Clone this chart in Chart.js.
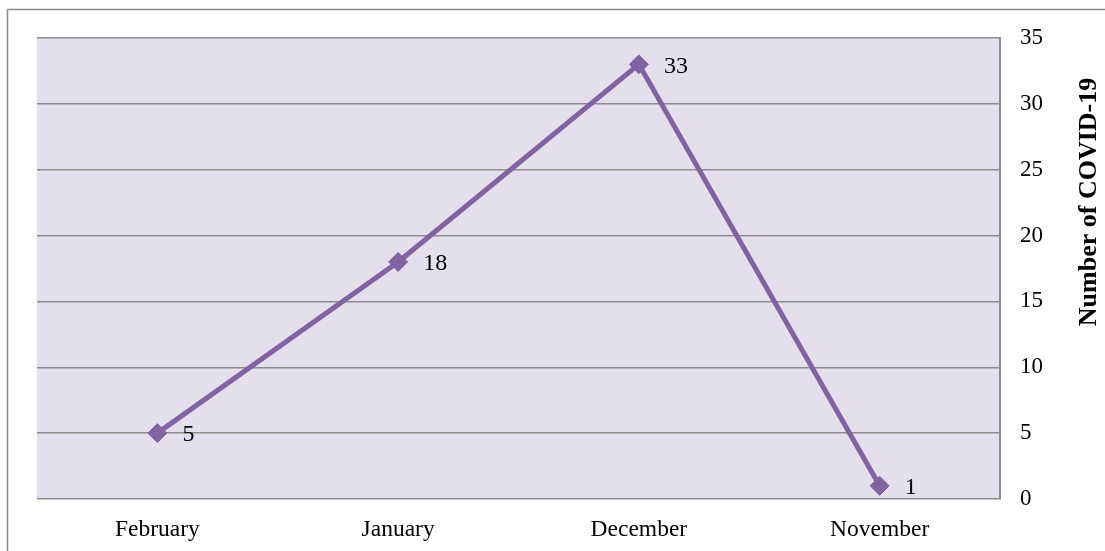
<!DOCTYPE html>
<html>
<head>
<meta charset="utf-8">
<script src="https://cdn.jsdelivr.net/npm/chart.js@4/dist/chart.umd.min.js"></script>
<style>
  html, body { margin: 0; padding: 0; background: #fff; }
  #wrap { width: 1105px; height: 551px; position: relative; }
</style>
</head>
<body>
<div id="wrap"><canvas id="covidChart"></canvas></div>
<script>
const months = ['February', 'January', 'December', 'November'];
const cases = [5, 18, 33, 1];
const yTicks = [0, 5, 10, 15, 20, 25, 30, 35];
const axisTitle = 'Number of COVID-19';

const serif = "'Liberation Serif', 'Times New Roman', serif";
const purple = '#8064a2';
const gridGray = '#8c8c8c';

// lavender plot area + outer frame
const backdrop = {
    id: 'backdrop',
    beforeDraw(chart) {
        const { ctx, chartArea: a } = chart;
        ctx.save();
        ctx.fillStyle = '#e4dfec';
        ctx.fillRect(a.left, a.top, a.right - a.left, a.bottom - a.top);
        ctx.strokeStyle = '#8a8a8a';
        ctx.lineWidth = 1.5;
        ctx.strokeRect(7.5, 9.5, chart.width + 20, chart.height + 20);
        ctx.restore();
    }
};

// value labels beside each marker and the rotated axis title
const labelsAndTitle = {
    id: 'labelsAndTitle',
    afterDatasetsDraw(chart) {
        const { ctx } = chart;
        const meta = chart.getDatasetMeta(0);
        ctx.save();
        ctx.font = '24px ' + serif;
        ctx.fillStyle = '#000';
        ctx.textAlign = 'left';
        ctx.textBaseline = 'middle';
        meta.data.forEach((pt, i) => {
            ctx.fillText(String(cases[i]), pt.x + 25, pt.y + 2);
        });
        ctx.translate(1089, 202);
        ctx.rotate(-Math.PI / 2);
        ctx.font = 'bold 26px ' + serif;
        ctx.textAlign = 'center';
        ctx.fillText(axisTitle, 0, 0);
        ctx.restore();
    }
};

new Chart(document.getElementById('covidChart'), {
    type: 'line',
    data: {
        labels: months,
        datasets: [{
            data: cases,
            borderColor: purple,
            backgroundColor: purple,
            borderWidth: 5,
            pointStyle: 'rectRot',
            pointRadius: 9.5,
            pointBorderWidth: 1,
            pointBackgroundColor: purple,
            pointBorderColor: purple,
            tension: 0,
            clip: false
        }]
    },
    options: {
        responsive: true,
        maintainAspectRatio: false,
        animation: false,
        layout: { padding: { left: 37, top: 38, right: 0, bottom: 0 } },
        plugins: {
            legend: { display: false },
            tooltip: { enabled: false }
        },
        scales: {
            x: {
                offset: true,
                grid: { display: false },
                border: { display: false },
                ticks: { color: '#000', font: { family: serif, size: 23.5 }, padding: 9, maxRotation: 0 },
                afterFit(scale) { scale.height = 52; }
            },
            y: {
                position: 'right',
                min: 0,
                max: 35,
                afterBuildTicks(scale) { scale.ticks = yTicks.map(v => ({ value: v })); },
                grid: { color: gridGray, lineWidth: 1.5, drawTicks: false },
                border: { display: true, color: gridGray, width: 2 },
                ticks: { color: '#000', font: { family: serif, size: 23 }, padding: 20 },
                afterFit(scale) { scale.width = 105; }
            }
        }
    },
    plugins: [backdrop, labelsAndTitle]
});
</script>
</body>
</html>
